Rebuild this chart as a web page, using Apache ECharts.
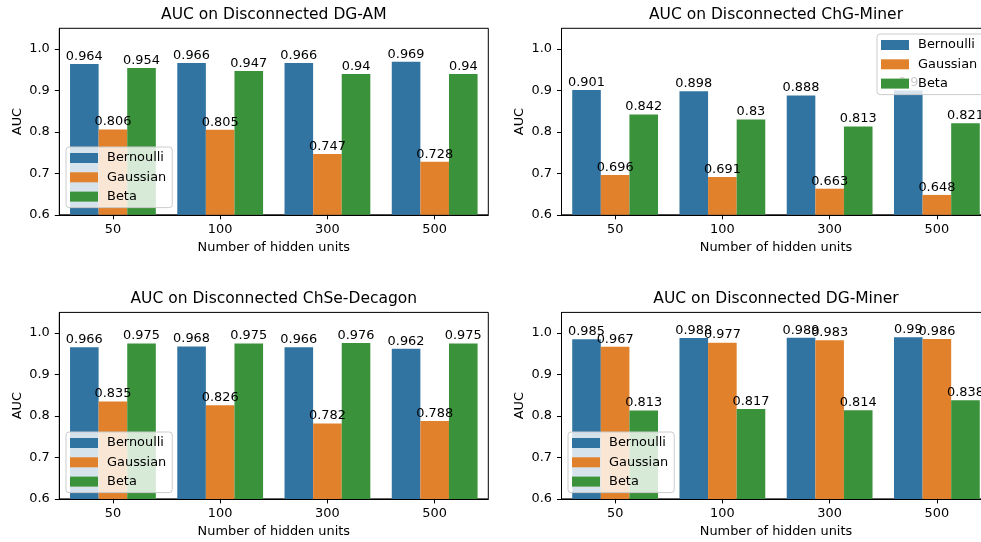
<!DOCTYPE html>
<html>
<head>
<meta charset="utf-8">
<script src="https://cdn.jsdelivr.net/npm/echarts@6/dist/echarts.min.js"></script>
<style>
  html, body { margin: 0; padding: 0; background: #fff; }
  #chart { width: 981px; height: 542px; }
</style>
</head>
<body>
<div id="chart"></div>
<script>
// Categories and series
const hiddenUnits = ['50', '100', '300', '500'];
const methodNames = ['Bernoulli', 'Gaussian', 'Beta'];
const panelTitles = [
  'AUC on Disconnected DG-AM',
  'AUC on Disconnected ChG-Miner',
  'AUC on Disconnected ChSe-Decagon',
  'AUC on Disconnected DG-Miner'
];

// AUC values per dataset, one array per method (order: 50, 100, 300, 500 units)
const dgAmBernoulli = [0.964, 0.966, 0.966, 0.969];
const dgAmGaussian  = [0.806, 0.805, 0.747, 0.728];
const dgAmBeta      = [0.954, 0.947, 0.94, 0.94];

const chgMinerBernoulli = [0.901, 0.898, 0.888, 0.9];
const chgMinerGaussian  = [0.696, 0.691, 0.663, 0.648];
const chgMinerBeta      = [0.842, 0.83, 0.813, 0.821];

const chseDecagonBernoulli = [0.966, 0.968, 0.966, 0.962];
const chseDecagonGaussian  = [0.835, 0.826, 0.782, 0.788];
const chseDecagonBeta      = [0.975, 0.975, 0.976, 0.975];

const dgMinerBernoulli = [0.985, 0.988, 0.989, 0.99];
const dgMinerGaussian  = [0.967, 0.977, 0.983, 0.986];
const dgMinerBeta      = [0.813, 0.817, 0.814, 0.838];

const yTickValues = [0.6, 0.7, 0.8, 0.9, 1.0];

const panelData = [
  [dgAmBernoulli, dgAmGaussian, dgAmBeta],
  [chgMinerBernoulli, chgMinerGaussian, chgMinerBeta],
  [chseDecagonBernoulli, chseDecagonGaussian, chseDecagonBeta],
  [dgMinerBernoulli, dgMinerGaussian, dgMinerBeta]
];

// Styling and layout
const FONT = 'DejaVu Sans';
const TICK_FS = 12.9;
const TITLE_FS = 15.5;
const methodColors = ['#3274a1', '#e1812c', '#3a923a'];

const panels = [
  { left: 59.3,  top: 28.3,  legendLeft: 66,  legendTop: 147 },
  { left: 561.5, top: 28.3,  legendLeft: 877, legendTop: 34 },
  { left: 59.3,  top: 312.4, legendLeft: 66,  legendTop: 432 },
  { left: 561.5, top: 312.4, legendLeft: 568, legendTop: 432 }
];
const PLOT_W = 429;
const PLOT_H = 186.5;

const grids = [], xAxes = [], yAxes = [], titles = [], legends = [], series = [];

panels.forEach((p, i) => {
  grids.push({
    left: p.left, top: p.top, width: PLOT_W, height: PLOT_H,
    show: true, borderColor: '#000', borderWidth: 1, backgroundColor: 'transparent',
    containLabel: false,
    outerBoundsMode: 'none'
  });
  titles.push({
    text: panelTitles[i],
    left: p.left + PLOT_W / 2,
    top: p.top - 21,
    textAlign: 'center',
    padding: 0,
    textStyle: { fontFamily: FONT, fontSize: TITLE_FS, fontWeight: 'normal', color: '#000' }
  });
  xAxes.push({
    type: 'category', gridIndex: i, data: hiddenUnits, z: 5,
    name: 'Number of hidden units', nameLocation: 'middle', nameGap: 26,
    nameTextStyle: { fontFamily: FONT, fontSize: TICK_FS, color: '#000' },
    axisLine: { show: true, lineStyle: { color: '#000', width: 1 } },
    axisTick: { show: true, alignWithLabel: true, length: 4.5, lineStyle: { color: '#000', width: 1 } },
    axisLabel: { margin: 8.5, fontFamily: FONT, fontSize: TICK_FS, color: '#000' },
    splitLine: { show: false }
  });
  yAxes.push({
    type: 'value', gridIndex: i, min: 0.6, max: 1.05, z: 5,
    name: 'AUC', nameLocation: 'middle', nameGap: 35,
    nameTextStyle: { fontFamily: FONT, fontSize: TICK_FS, color: '#000' },
    axisLine: { show: true, lineStyle: { color: '#000', width: 1 } },
    axisTick: { show: true, length: 4.5, customValues: yTickValues, lineStyle: { color: '#000', width: 1 } },
    axisLabel: {
      margin: 9.5, fontFamily: FONT, fontSize: TICK_FS, color: '#000',
      customValues: yTickValues, formatter: v => Number(v).toFixed(1)
    },
    splitLine: { show: false }
  });
  legends.push({
    data: methodNames,
    orient: 'vertical',
    left: p.legendLeft, top: p.legendTop,
    icon: 'rect', itemWidth: 28, itemHeight: 10, itemGap: 5.3,
    padding: [4, 6, 4, 4],
    backgroundColor: 'rgba(255,255,255,0.8)',
    borderColor: '#cccccc', borderWidth: 1, borderRadius: 3,
    formatter: name => ' ' + name,
    textStyle: { fontFamily: FONT, fontSize: TICK_FS, color: '#000', lineHeight: 14 },
    selectedMode: false,
    z: 10
  });
  panelData[i].forEach((values, s) => {
    series.push({
      type: 'bar', name: methodNames[s],
      xAxisIndex: i, yAxisIndex: i,
      data: values,
      barWidth: '26.6667%', barGap: '0%',
      itemStyle: { color: methodColors[s] },
      label: {
        show: true, position: 'top', distance: 1,
        fontFamily: FONT, fontSize: TICK_FS, color: '#000',
        formatter: d => String(d.value)
      },
      emphasis: { disabled: true }
    });
  });
});

const chart = echarts.init(document.getElementById('chart'), null, { renderer: 'canvas' });
chart.setOption({
  animation: false,
  backgroundColor: '#fff',
  title: titles,
  legend: legends,
  grid: grids,
  xAxis: xAxes,
  yAxis: yAxes,
  series: series
});
</script>
</body>
</html>
